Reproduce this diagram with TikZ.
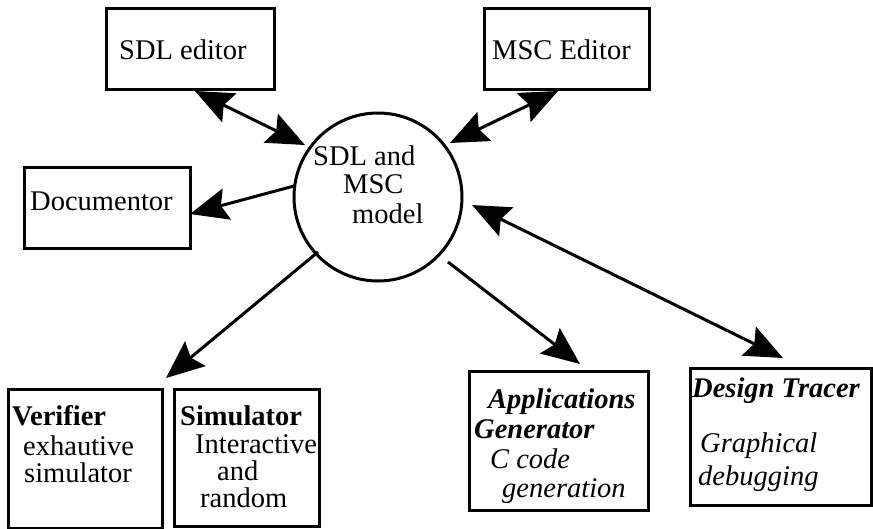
\documentclass[tikz,border=0pt]{standalone}
\usepackage{fontspec}
\setmainfont{Liberation Serif}
\usetikzlibrary{arrows.meta,calc}
\begin{document}
\begin{tikzpicture}[x=1pt,y=-1pt,
  box/.style={draw,line width=3pt,anchor=north west,inner sep=0pt,rectangle},
  lbl/.style={anchor=base west,inner sep=0pt,font=\fontsize{28.5}{30}\selectfont},
  conn/.style={line width=3pt},
  bigtip/.tip={Stealth[length=38pt,width=32pt,inset=6pt]}]
\useasboundingbox (0,0) rectangle (873,528);
\fill[white] (0,0) rectangle (873,528);
% boxes
\node[box,minimum width=168pt,minimum height=81pt] (sdl) at (105,7) {};
\node[box,minimum width=165pt,minimum height=81pt] (msc) at (483,7) {};
\node[box,minimum width=166pt,minimum height=81pt] (doc) at (23,166) {};
\node[box,minimum width=154pt,minimum height=139pt] (ver) at (7,388) {};
\node[box,minimum width=145pt,minimum height=137pt] (sim) at (173,388) {};
\node[box,minimum width=179pt,minimum height=139pt] (app) at (468,370) {};
\node[box,minimum width=181pt,minimum height=137pt] (des) at (689,367) {};
\node[draw,circle,line width=3pt,minimum size=168pt,inner sep=0pt] (circ) at (378,197) {};
% texts
\node[lbl] (tsdl) at (119,59) {SDL editor};
\node[lbl] (tmsc) at (492,59) {MSC Editor};
\node[lbl] (tdoc) at (30,210) {Documentor};
\node[lbl] (tc1) at (313,165) {SDL and};
\node[lbl] (tc2) at (343,193) {MSC};
\node[lbl] (tc3) at (352,223) {model};
\node[lbl] (tv1) at (12,425) {\textbf{Verifier}};
\node[lbl] (tv2) at (23,455) {exhautive};
\node[lbl] (tv3) at (24,482) {simulator};
\node[lbl] (ts1) at (180,425) {\textbf{Simulator}};
\node[lbl] (ts2) at (195,453) {Interactive};
\node[lbl] (ts3) at (217,480) {and};
\node[lbl] (ts4) at (200,507) {random};
\node[lbl] (ta1) at (488,408) {\textbf{\textit{Applications}}};
\node[lbl] (ta2) at (474,438) {\textbf{\textit{Generator}}};
\node[lbl] (ta3) at (490,468) {\textit{C code}};
\node[lbl] (ta4) at (502,497) {\textit{generation}};
\node[lbl] (td1) at (692,397) {\textbf{\textit{Design Tracer}}};
\node[lbl] (td2) at (700,452) {\textit{Graphical}};
\node[lbl] (td3) at (698,485) {\textit{debugging}};
% connectors
\draw[conn,bigtip-bigtip] ($(sdl.south west)+(90,0)$) -- ($(circ.center)+(-73,-52)$);
\draw[conn,bigtip-bigtip] ($(msc.south west)+(75,0)$) -- ($(circ.center)+(72,-54)$);
\draw[conn,-bigtip] ($(circ.center)+(-84,-11)$) -- ($(doc.east)+(-2,6)$);
\draw[conn,-bigtip] ($(circ.center)+(-60,55)$) -- ($(ver.north east)+(2,-10)$);
\draw[conn,-bigtip] ($(circ.center)+(70,65)$) -- ($(app.north west)+(112,-6)$);
\draw[conn,bigtip-bigtip] ($(circ.center)+(94,8)$) -- ($(des.north west)+(94,-9)$);
\end{tikzpicture}
\end{document}
